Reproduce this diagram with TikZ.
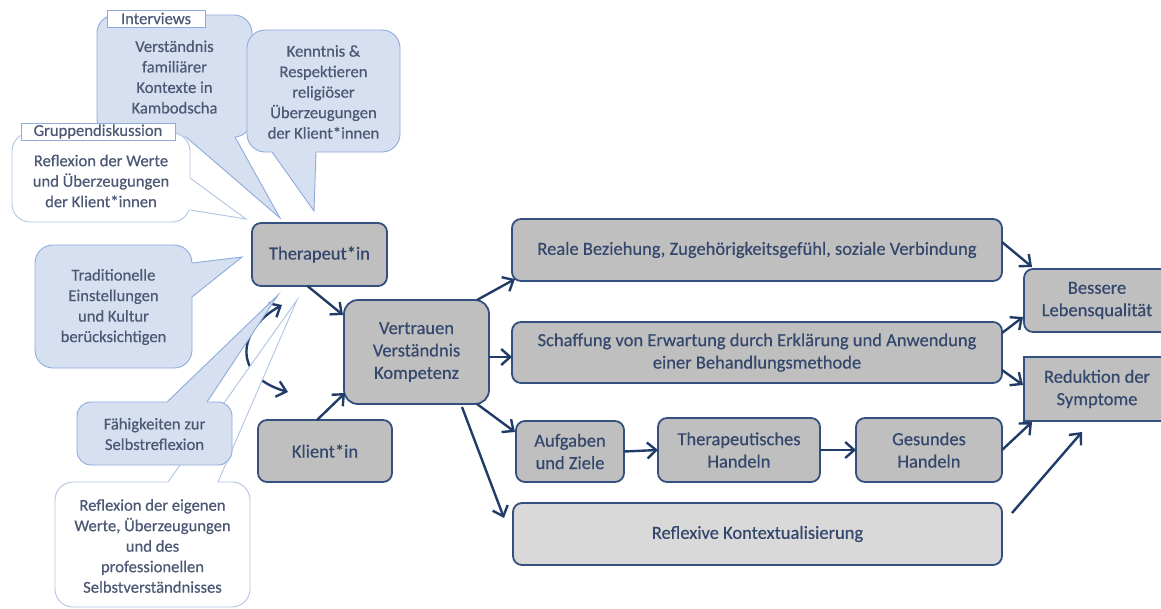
\documentclass[tikz,border=0pt]{standalone}
\usepackage{fontspec}
\setmainfont{Carlito}[FakeBold=0.4]
\newfontfamily\carl{Carlito}[FakeBold=0.4]
\usetikzlibrary{arrows.meta,calc}
\definecolor{navy}{HTML}{213C68}
\definecolor{bordercol}{HTML}{34507E}
\definecolor{grayfill}{HTML}{BFBFBF}
\definecolor{lightgray}{HTML}{D9D9D9}
\definecolor{maintext}{HTML}{34476C}
\definecolor{caltext}{HTML}{4C5874}
\definecolor{calfill}{HTML}{D6E0F1}
\definecolor{calborder}{HTML}{8FAADC}
\definecolor{wborder}{HTML}{B0C4E4}
\newcommand\mainf{\carl\fontsize{18.5}{22.4}\selectfont}
\newcommand\calf{\carl\fontsize{16.6}{20.5}\selectfont}
\newcommand\calloutptr[5]{%
  \fill[#1] (#5) -- ($(#3)!-3pt!(#5)$) -- ($(#4)!-3pt!(#5)$) -- cycle;
  \draw[#2] (#3) -- (#5) -- (#4);}
\tikzset{
  box/.style={draw=bordercol, fill=grayfill, rounded corners=9pt, line width=1.8pt,
    inner sep=0pt, outer sep=0pt, align=center, font=\mainf, text=maintext},
  arr/.style={draw=navy, line width=2.4pt, -{Straight Barb[length=9pt,width=16pt]}},
  bluecal/.style={draw=calborder, fill=calfill, line width=0.9pt, rounded corners=18pt,
    inner sep=0pt, outer sep=0pt},
  whitecal/.style={draw=wborder, fill=white, line width=0.9pt, rounded corners=18pt,
    inner sep=0pt, outer sep=0pt},
  ctext/.style={align=center, font=\calf, text=caltext, inner sep=0pt},
  tag/.style={draw=calborder, fill=white, line width=0.9pt, inner sep=0pt,
    font=\calf, text=caltext},
  bptr/.style={draw=calborder, line width=0.9pt},
  wptr/.style={draw=wborder, line width=0.9pt},
}
\begin{document}
\begin{tikzpicture}[x=1pt,y=-1pt]
\useasboundingbox (0,0) rectangle (1161,608);

% curved double arrow (partly covered by the white callout pointer)
\coordinate (ca1) at (288,392);
\coordinate (ca2) at (282,305);
\draw[navy, line width=2.4pt, {Straight Barb[length=9pt,width=16pt]}-{Straight Barb[length=9pt,width=16pt]}]
  (ca1) .. controls (232,376) and (237,330) .. (ca2);

% Interviews callout
\node[bluecal, minimum width=155pt, minimum height=122pt] (cInt) at (174.5,76) {};
\coordinate (iB1) at (186,137); \coordinate (iB2) at (235,137); \coordinate (iT) at (280,218);
\calloutptr{calfill}{bptr}{iB1}{iB2}{iT}
\node[ctext] (tInt) at (174.5,77) {Verständnis\\familiärer\\Kontexte in\\Kambodscha};
\node[tag, minimum width=98pt, minimum height=17pt] (lInt) at (156,18.5) {Interviews};

% Kenntnis callout
\node[bluecal, minimum width=153pt, minimum height=122pt] (cKen) at (323.5,91) {};
\coordinate (kB1) at (272,152); \coordinate (kB2) at (316,152); \coordinate (kT) at (314,211);
\calloutptr{calfill}{bptr}{kB1}{kB2}{kT}
\node[ctext] (tKen) at (323.5,92) {Kenntnis \&\\Respektieren\\religiöser\\Überzeugungen\\der Klient*innen};

% Gruppendiskussion callout
\node[whitecal, minimum width=178pt, minimum height=89pt] (cGru) at (101,177.5) {};
\coordinate (gB1) at (190,178); \coordinate (gB2) at (190,210); \coordinate (gT) at (246,219);
\calloutptr{white}{wptr}{gB1}{gB2}{gT}
\node[ctext] (tGru) at (101,181) {Reflexion der Werte\\und Überzeugungen\\der Klient*innen};
\node[tag, minimum width=154pt, minimum height=17pt] (lGru) at (98,131.5) {Gruppendiskussion};

% Traditionelle callout
\node[bluecal, minimum width=157pt, minimum height=123pt] (cTra) at (113.5,306.5) {};
\coordinate (tB1) at (192,263); \coordinate (tB2) at (192,297); \coordinate (tT) at (242,257);
\calloutptr{calfill}{bptr}{tB1}{tB2}{tT}
\node[ctext] (tTra) at (113.5,307) {Traditionelle\\Einstellungen\\und Kultur\\berücksichtigen};

% Reflexion der eigenen Werte callout (white)
\node[whitecal, minimum width=195pt, minimum height=125pt] (cEig) at (152.5,544.5) {};
\coordinate (eB1) at (168,482); \coordinate (eB2) at (218,482); \coordinate (eT) at (297,300);
\calloutptr{white}{wptr}{eB1}{eB2}{eT}
\node[ctext] (tEig) at (152.5,546) {Reflexion der eigenen\\Werte, Überzeugungen\\und des\\professionellen\\Selbstverständnisses};

% Fähigkeiten callout
\node[bluecal, rounded corners=14pt, minimum width=155pt, minimum height=63pt] (cFae) at (154.5,433.5) {};
\coordinate (fB1) at (167,402); \coordinate (fB2) at (207,402); \coordinate (fT) at (278,295);
\calloutptr{calfill}{bptr}{fB1}{fB2}{fT}
\node[ctext] (tFae) at (154.5,434) {Fähigkeiten zur\\Selbstreflexion};

% main boxes
\node[box, minimum width=135pt, minimum height=63pt] (ther) at (319.5,254.5) {Therapeut*in};
\node[box, minimum width=134pt, minimum height=62pt] (klient) at (325,451) {Klient*in};
\node[box, rounded corners=14pt, minimum width=145pt, minimum height=104pt] (vert) at (416.5,352) {Vertrauen\\Verständnis\\Kompetenz};
\node[box, minimum width=490pt, minimum height=62pt] (reale) at (757,250) {Reale Beziehung, Zugehörigkeitsgefühl, soziale Verbindung};
\node[box, minimum width=490pt, minimum height=61pt] (schaff) at (757,352.5) {Schaffung von Erwartung durch Erklärung und Anwendung\\einer Behandlungsmethode};
\node[box, minimum width=108pt, minimum height=61pt] (auf) at (570,451.5) {Aufgaben\\und Ziele};
\node[box, minimum width=162pt, minimum height=64pt] (thera) at (739,450) {Therapeutisches\\Handeln};
\node[box, minimum width=146pt, minimum height=64pt] (ges) at (929,450) {Gesundes\\Handeln};
\node[box, fill=lightgray, minimum width=489pt, minimum height=62pt] (refl) at (757.5,534) {Reflexive Kontextualisierung};
\node[box, minimum width=146pt, minimum height=63pt] (bess) at (1097,300.5) {Bessere\\Lebensqualität};
\node[box, rounded corners=0pt, minimum width=146pt, minimum height=64pt] (red) at (1097,389) {Reduktion der\\Symptome};

% connectors
\draw[arr] ($(ther.south)+(-12,0)$) -- ($(vert.north west)+(-1,15)$);
\draw[arr] ($(klient.north)+(-8,0)$) -- ($(vert.south west)+(1,-11)$);
\draw[arr] ($(vert.north east)+(-12,0)$) -- ($(reale.south west)+(3,-2)$);
\draw[arr] ($(vert.east)+(0,5)$) -- ($(schaff.west)+(0,4.5)$);
\draw[arr] ($(vert.south east)+(-12,0)$) -- ($(auf.north west)+(-1,11)$);
\draw[arr] ($(vert.south east)+(-27,3)$) -- ($(refl.west)+(-9,-16)$);
\draw[arr] (auf.east) -- (thera.west);
\draw[arr] (thera.east) -- (ges.west);
\draw[arr] ($(reale.east)+(0,-8)$) -- ($(bess.north west)+(8,-2)$);
\draw[arr] ($(schaff.east)+(0,-19.5)$) -- ($(bess.south west)+(-1,-15)$);
\draw[arr] ($(schaff.east)+(0,17.5)$) -- ($(red.west)+(-1,-4)$);
\draw[arr] (ges.east) -- ($(red.south west)+(8,1)$);
\coordinate (rk1) at (1012,513);
\coordinate (rk2) at (1082,432);
\draw[arr] (rk1) -- (rk2);
\end{tikzpicture}
\end{document}
